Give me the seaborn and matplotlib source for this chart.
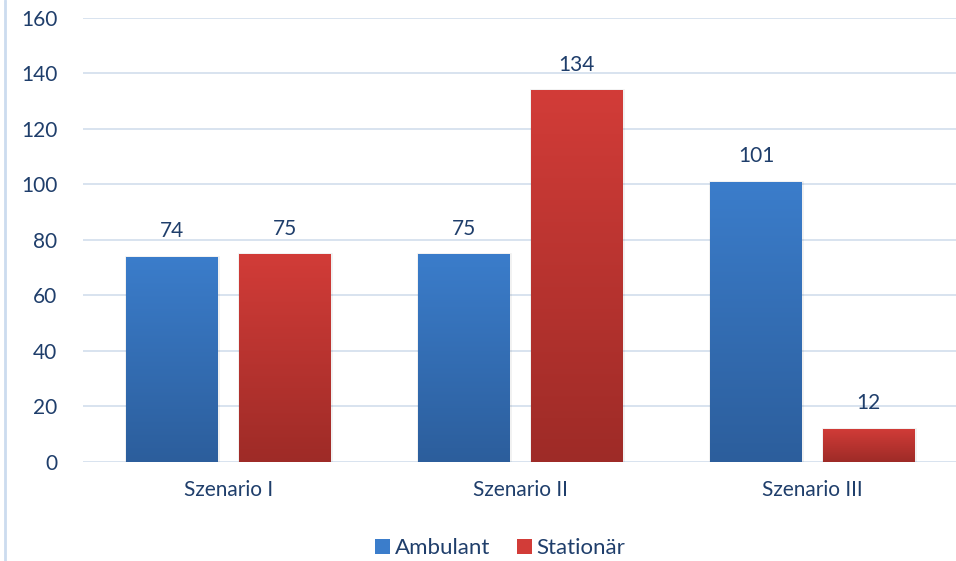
import numpy as np
import pandas as pd
import matplotlib
matplotlib.use("Agg")
import matplotlib.pyplot as plt
import seaborn as sns
from matplotlib.colors import LinearSegmentedColormap
from matplotlib.patches import Patch
from matplotlib.lines import Line2D

# data
szenarien = ["Szenario I", "Szenario II", "Szenario III"]
ambulant = [74, 75, 101]
stationaer = [75, 134, 12]
series = ["Ambulant", "Stationär"]
y_ticks = [0, 20, 40, 60, 80, 100, 120, 140, 160]

text_col = "#1F3E6B"
grid_col = "#D5E0EE"
colors = {"Ambulant": ("#3B7DCB", "#2C5E9C"), "Stationär": ("#D23C38", "#9E2B27")}

df = pd.DataFrame({
    "Szenario": szenarien * 2,
    "Typ": [series[0]] * 3 + [series[1]] * 3,
    "Wert": ambulant + stationaer,
})

sns.set_style("white")
plt.rcParams["font.family"] = ["Lato", "DejaVu Sans"]
fs = 15

fig = plt.figure(figsize=(9.56, 5.61), dpi=100)
ax = fig.add_axes([0.0863, 0.1765, 0.9163, 0.7915])

sns.barplot(data=df, x="Szenario", y="Wert", hue="Typ", hue_order=series,
            palette={k: v[0] for k, v in colors.items()},
            width=0.768, gap=0.18, ax=ax, legend=False, zorder=3)

ax.set_ylim(0, 160)
ax.set_xlim(-0.5, 2.5)
ax.set_yticks(y_ticks)
ax.yaxis.grid(True, color=grid_col, lw=1.3, zorder=0)
ax.xaxis.grid(False)
for s in ax.spines.values():
    s.set_visible(False)
ax.tick_params(axis="both", length=0, labelsize=fs, labelcolor=text_col)
ax.tick_params(axis="y", pad=18)
ax.tick_params(axis="x", pad=13)
ax.set_xlabel("")
ax.set_ylabel("")

# gradient fill on every bar, with a faint shadow
for cont, name in zip(ax.containers, series):
    top, bot = colors[name]
    cmap = LinearSegmentedColormap.from_list(name, [bot, top])
    grad = np.linspace(0, 1, 256).reshape(-1, 1)
    for bar in cont:
        x0, y0 = bar.get_x(), bar.get_y()
        w, h = bar.get_width(), bar.get_height()
        bar.set_facecolor("none")
        bar.set_edgecolor("#0000000E")
        bar.set_linewidth(2)
        im = ax.imshow(grad, cmap=cmap, origin="lower", aspect="auto",
                       extent=[x0, x0 + w, y0, y0 + h], zorder=3)
        im.set_clip_path(bar)
    ax.bar_label(cont, padding=11, fontsize=fs, color=text_col)

ax.set_xlim(-0.5, 2.5)
ax.set_ylim(0, 160)

handles = [Patch(facecolor=colors[n][0], edgecolor="none") for n in series]
fig.legend(handles, series, loc="center", bbox_to_anchor=(0.523, 0.023),
           ncol=2, frameon=False, fontsize=16, labelcolor=text_col,
           handlelength=0.7, handleheight=0.7, handletextpad=0.2,
           columnspacing=1.2)

# chart border on the left edge
fig.add_artist(Line2D([0.0055, 0.0055], [0, 1], transform=fig.transFigure,
                      color="#CCDCEF", lw=2))

fig.savefig("out.png", dpi=100)
